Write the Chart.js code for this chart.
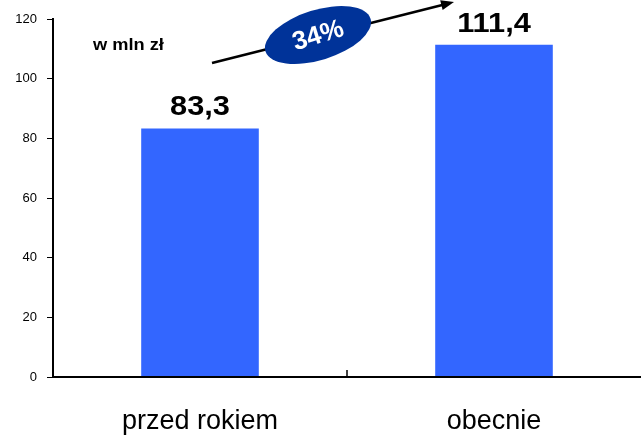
<!DOCTYPE html>
<html>
<head>
<meta charset="utf-8">
<script src="https://cdn.jsdelivr.net/npm/chart.js@4/dist/chart.umd.min.js"></script>
<style>
  html, body { margin: 0; padding: 0; background: #fff; overflow: hidden; }
  canvas { display: block; }
</style>
</head>
<body>
<canvas id="c" width="641" height="435"></canvas>
<script>
// data
var categories = ["przed rokiem", "obecnie"];
var values = [83.3, 111.4];
var valueLabels = ["83,3", "111,4"];
var unitLabel = "w mln zł";
var growthLabel = "34%";

// the source picture is stretched a bit sideways
var STRETCH = 1.14;

function wideText(ctx, txt, x, y) {
  ctx.save();
  ctx.translate(x, y);
  ctx.scale(STRETCH, 1);
  ctx.fillText(txt, 0, 0);
  ctx.restore();
}

// value labels above bars
var barLabels = {
  id: "barLabels",
  afterDatasetsDraw: function(chart) {
    var ctx = chart.ctx;
    var meta = chart.getDatasetMeta(0);
    ctx.save();
    ctx.fillStyle = "#000";
    ctx.font = "bold 27px 'Liberation Sans', Arial, sans-serif";
    ctx.textAlign = "center";
    ctx.textBaseline = "alphabetic";
    meta.data.forEach(function(bar, i) {
      wideText(ctx, valueLabels[i], bar.x, bar.y - 13);
    });
    ctx.restore();
  }
};

// unit caption, growth arrow with ellipse, divider tick
var extras = {
  id: "extras",
  afterDraw: function(chart) {
    var ctx = chart.ctx;
    var a = chart.chartArea;
    var x = chart.scales.x;
    ctx.save();

    ctx.fillStyle = "#000";
    ctx.font = "bold 16px 'Liberation Sans', Arial, sans-serif";
    ctx.textBaseline = "alphabetic";
    wideText(ctx, unitLabel, 93, 50);

    // small tick between categories, pointing up
    var mid = (x.getPixelForValue(0) + x.getPixelForValue(1)) / 2;
    ctx.strokeStyle = "#000";
    ctx.lineWidth = 1.5;
    ctx.beginPath();
    ctx.moveTo(mid, a.bottom);
    ctx.lineTo(mid, a.bottom - 7);
    ctx.stroke();

    // arrow
    var x0 = 212, y0 = 63, x1 = 454, y1 = 2;
    var ang = Math.atan2(y1 - y0, x1 - x0);
    ctx.lineWidth = 2.5;
    ctx.beginPath();
    ctx.moveTo(x0, y0);
    ctx.lineTo(x1 - 8 * Math.cos(ang), y1 - 8 * Math.sin(ang));
    ctx.stroke();
    ctx.fillStyle = "#000";
    ctx.beginPath();
    ctx.moveTo(x1, y1);
    ctx.lineTo(x1 - 13 * Math.cos(ang) + 5 * Math.sin(ang), y1 - 13 * Math.sin(ang) - 5 * Math.cos(ang));
    ctx.lineTo(x1 - 13 * Math.cos(ang) - 5 * Math.sin(ang), y1 - 13 * Math.sin(ang) + 5 * Math.cos(ang));
    ctx.closePath();
    ctx.fill();

    // ellipse with percentage
    var cx = 318, cy = 35;
    ctx.translate(cx, cy);
    ctx.rotate(-0.3);
    ctx.fillStyle = "#003399";
    ctx.beginPath();
    ctx.ellipse(0, 0, 55, 25, 0, 0, Math.PI * 2);
    ctx.fill();
    ctx.fillStyle = "#fff";
    ctx.font = "bold 26px 'Liberation Sans', Arial, sans-serif";
    ctx.textAlign = "center";
    ctx.textBaseline = "middle";
    ctx.fillText(growthLabel, 0, 1);
    ctx.restore();

    // x axis line carried to the right edge
    ctx.save();
    ctx.strokeStyle = "#000";
    ctx.lineWidth = 2;
    ctx.beginPath();
    ctx.moveTo(a.left - 1, a.bottom);
    ctx.lineTo(chart.width, a.bottom);
    ctx.stroke();
    ctx.restore();
  }
};

new Chart(document.getElementById("c"), {
  type: "bar",
  data: {
    labels: categories,
    datasets: [{
      data: values,
      backgroundColor: "#3366FF",
      borderWidth: 0,
      barPercentage: 0.4,
      categoryPercentage: 1
    }]
  },
  options: {
    responsive: false,
    animation: false,
    layout: { padding: { top: 19, right: -5, left: 0, bottom: 0 } },
    plugins: {
      legend: { display: false },
      tooltip: { enabled: false }
    },
    scales: {
      x: {
        offset: true,
        grid: { display: false, drawOnChartArea: false },
        border: { display: false },
        ticks: {
          color: "#000",
          padding: 20,
          maxRotation: 0,
          font: { family: "'Liberation Sans', Arial, sans-serif", size: 27 }
        },
        afterFit: function(s) { s.height = 58; }
      },
      y: {
        min: 0,
        max: 120,
        ticks: {
          stepSize: 20,
          color: "#000",
          padding: 10,
          font: { family: "'Liberation Sans', Arial, sans-serif", size: 13 }
        },
        grid: { drawOnChartArea: false, color: "#000", tickLength: 6, lineWidth: 1 },
        border: { display: true, color: "#000", width: 2 },
        afterFit: function(s) { s.width = 53; }
      }
    }
  },
  plugins: [barLabels, extras]
});
</script>
</body>
</html>
